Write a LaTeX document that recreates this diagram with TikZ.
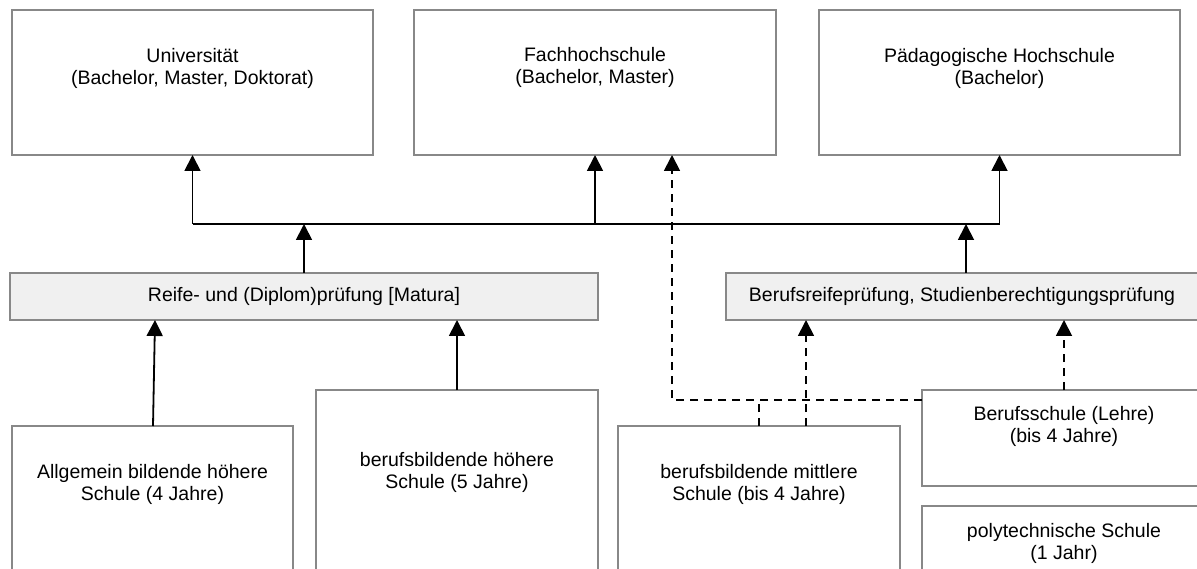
\documentclass[tikz,border=0pt]{standalone}
\usepackage{fontspec}
\setmainfont{Liberation Sans}
\usetikzlibrary{arrows.meta,calc}
\definecolor{boxgray}{RGB}{136,136,136}
\definecolor{examfill}{RGB}{240,240,240}
\newcommand{\twolines}[2]{\begin{tabular}[t]{@{}c@{}}#1\\#2\end{tabular}}
\begin{document}
\begin{tikzpicture}[x=1pt,y=-1pt,
  box/.style={draw=boxgray, line width=1.8pt, fill=white, anchor=north west, inner sep=0pt, outer sep=0pt},
  exam/.style={box, fill=examfill, font=\fontsize{19.5}{22}\selectfont},
  lbl/.style={anchor=base, inner sep=0pt, font=\fontsize{19.5}{22}\selectfont},
  con/.style={line width=1.8pt, draw=black},
  arr/.style={con, -{Triangle[width=16pt,length=16pt]}},
  dsh/.style={dash pattern=on 8pt off 6pt}
]
\useasboundingbox (0,0) rectangle (1197,569);
\clip (0,0) rectangle (1197,569);

% top row
\node[box, minimum width=361pt, minimum height=145pt] (uni) at (12,10) {};
\node[lbl] (uni-t) at ($(uni.north)+(0,53)$) {\twolines{Universität}{(Bachelor, Master, Doktorat)}};
\node[box, minimum width=362pt, minimum height=145pt] (fh) at (414,10) {};
\node[lbl] (fh-t) at ($(fh.north)+(0,52)$) {\twolines{Fachhochschule}{(Bachelor, Master)}};
\node[box, minimum width=361pt, minimum height=145pt] (ph) at (819,10) {};
\node[lbl] (ph-t) at ($(ph.north)+(0,53)$) {\twolines{Pädagogische Hochschule}{(Bachelor)}};

% exams
\node[exam, minimum width=588pt, minimum height=47pt] (mat) at (10,273) {Reife- und (Diplom)prüfung [Matura]};
\node[exam, minimum width=472pt, minimum height=47pt] (brp) at (726,273) {Berufsreifeprüfung, Studienberechtigungsprüfung};

% schools
\node[box, minimum width=281pt, minimum height=200pt] (ahs) at (12,426) {};
\node[lbl] (ahs-t) at ($(ahs.north)+(0,52)$) {\twolines{Allgemein bildende höhere}{Schule (4 Jahre)}};
\node[box, minimum width=282pt, minimum height=230pt] (bhs) at (316,390) {};
\node[lbl] (bhs-t) at ($(bhs.north)+(0,76)$) {\twolines{berufsbildende höhere}{Schule (5 Jahre)}};
\node[box, minimum width=282pt, minimum height=200pt] (bms) at (618,426) {};
\node[lbl] (bms-t) at ($(bms.north)+(0,52)$) {\twolines{berufsbildende mittlere}{Schule (bis 4 Jahre)}};
\node[box, minimum width=284pt, minimum height=96pt] (bs) at (922,390) {};
\node[lbl] (bs-t) at ($(bs.north)+(0,30)$) {\twolines{Berufsschule (Lehre)}{(bis 4 Jahre)}};
\node[box, minimum width=284pt, minimum height=120pt] (poly) at (922,506) {};
\node[lbl] (poly-t) at ($(poly.north)+(0,31)$) {\twolines{polytechnische Schule}{(1 Jahr)}};

% bus to higher education
\coordinate (busL) at (uni.south |- 0,224);
\coordinate (busR) at (ph.south |- 0,224);
\draw[con] (busL) -- (busR);
\draw[arr] (busL) -- (uni.south);
\draw[arr] (fh.south |- busL) -- (fh.south);
\draw[arr] (busR) -- (ph.south);
\draw[arr] (mat.north) -- (mat.north |- busL);
\draw[arr] ([xshift=4pt]brp.north) -- ([xshift=4pt]brp.north |- busL);

% schools to Matura
\draw[arr] ([xshift=0.5pt]ahs.north) -- ([xshift=2.5pt]ahs.north |- mat.south);
\draw[arr] (bhs.north) -- (bhs.north |- mat.south);

% dashed paths
\coordinate (bsin) at ([yshift=-10pt]bs.north west);
\coordinate (fhin) at ([xshift=77pt]fh.south);
\draw[arr, dsh] (bsin) -- (fhin |- bsin) -- (fhin);
\draw[con, dsh] (bms.north) -- (bms.north |- bsin);
\draw[arr, dsh] ([xshift=47pt]bms.north) -- ([xshift=47pt]bms.north |- brp.south);
\draw[arr, dsh] (bs.north) -- (bs.north |- brp.south);
\end{tikzpicture}
\end{document}
